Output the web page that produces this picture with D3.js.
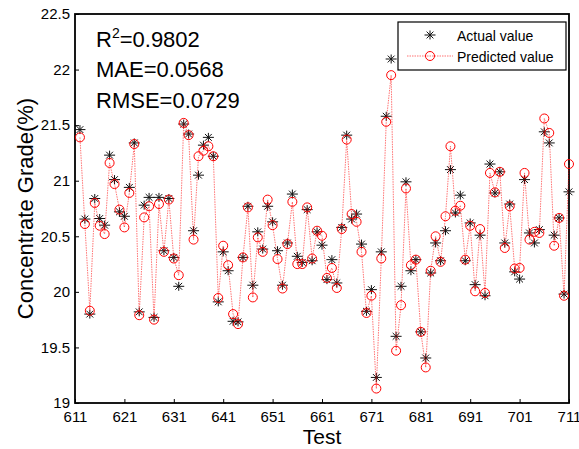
<!DOCTYPE html>
<html>
<head>
<meta charset="utf-8">
<script src="https://cdn.jsdelivr.net/npm/d3@7"></script>
<style>
  html, body { margin: 0; padding: 0; background: #fff; }
  svg { display: block; font-family: "Liberation Sans", Arial, sans-serif; }
</style>
</head>
<body>
<svg id="chart" width="579" height="449"></svg>
<script>
const tests = [612,613,614,615,616,617,618,619,620,621,622,623,624,625,626,627,628,629,630,631,
  632,633,634,635,636,637,638,639,640,641,642,643,644,645,646,647,648,649,650,651,
  652,653,654,655,656,657,658,659,660,661,662,663,664,665,666,667,668,669,670,671,
  672,673,674,675,676,677,678,679,680,681,682,683,684,685,686,687,688,689,690,691,
  692,693,694,695,696,697,698,699,700,701,702,703,704,705,706,707,708,709,710,711];

const actualValues = [21.46,20.655,19.80,20.84,20.66,20.60,21.23,21.01,20.72,20.68,
  20.94,21.34,19.82,20.78,20.85,19.77,20.85,20.37,20.84,20.31,
  20.05,21.51,21.42,20.55,21.05,21.32,21.39,21.22,19.91,20.36,
  20.19,19.735,19.73,20.31,20.77,20.06,20.54,20.385,20.77,20.63,
  20.37,20.06,20.44,20.88,20.32,20.265,20.74,20.28,20.54,20.42,
  20.11,20.29,20.08,20.58,21.41,20.655,20.70,20.43,19.825,20.02,
  19.23,20.36,21.58,22.095,19.60,20.05,20.99,20.19,20.29,19.64,
  19.405,20.17,20.44,20.28,20.55,21.10,20.71,20.87,20.28,20.62,
  20.065,20.51,19.965,21.15,20.89,21.08,20.44,20.79,20.18,20.115,
  21.01,20.53,20.44,20.56,21.44,21.34,20.51,20.665,19.98,20.90];

const predictedValues = [21.39,20.61,19.83,20.80,20.595,20.52,21.16,20.97,20.74,20.58,
  20.89,21.33,19.79,20.67,20.77,19.75,20.79,20.36,20.83,20.30,
  20.15,21.52,21.41,20.47,21.22,21.27,21.31,21.22,19.945,20.415,
  20.24,19.80,19.71,20.31,20.76,19.95,20.49,20.36,20.83,20.60,
  20.295,20.03,20.43,20.81,20.25,20.25,20.76,20.30,20.55,20.505,
  20.125,20.215,20.035,20.565,21.37,20.70,20.63,20.36,19.81,19.965,
  19.13,20.30,21.53,21.95,19.47,19.88,20.93,20.24,20.29,19.64,
  19.32,20.19,20.50,20.27,20.68,21.31,20.73,20.775,20.29,20.595,
  20.005,20.565,19.99,21.07,20.895,21.08,20.395,20.77,20.21,20.215,
  21.07,20.47,20.54,20.53,21.56,21.43,20.415,20.665,19.965,21.15];

const xTickValues = [611,621,631,641,651,661,671,681,691,701,711];
const yTickValues = [19,19.5,20,20.5,21,21.5,22,22.5];
const yTickLabels = ["19","19.5","20","20.5","21","21.5","22","22.5"];
const statLines = [["R", "2", "=0.9802"], ["MAE=0.0568"], ["RMSE=0.0729"]];
const legendLabels = ["Actual value", "Predicted value"];
const xTitle = "Test";
const yTitle = "Concentrate Grade(%)";

const svg = d3.select("#chart");
const L = 75, R = 569, T = 14, B = 403;
const x = d3.scaleLinear().domain([611, 711]).range([L, R]);
const y = d3.scaleLinear().domain([19, 22.5]).range([B, T]);

svg.append("rect").attr("x", 0).attr("y", 0).attr("width", 579).attr("height", 449).attr("fill", "#fff");

// axes
const xAxis = d3.axisBottom(x).tickValues(xTickValues).tickFormat(d3.format("d"))
  .tickSizeInner(-4).tickSizeOuter(0).tickPadding(8);
const gx = svg.append("g").attr("transform", `translate(0,${B})`).call(xAxis);
gx.select(".domain").remove();
gx.selectAll(".tick line").attr("stroke", "#000").attr("stroke-width", 1);
gx.selectAll(".tick text").attr("font-size", 15).attr("fill", "#000")
  .attr("font-family", "Liberation Sans, Arial, sans-serif").attr("dy", "0.72em");

const yAxis = d3.axisLeft(y).tickValues(yTickValues)
  .tickFormat((d, i) => yTickLabels[i]).tickSizeInner(-4).tickSizeOuter(0).tickPadding(5);
const gy = svg.append("g").attr("transform", `translate(${L},0)`).call(yAxis);
gy.select(".domain").remove();
gy.selectAll(".tick line").attr("stroke", "#000").attr("stroke-width", 1);
gy.selectAll(".tick text").attr("font-size", 15).attr("fill", "#000")
  .attr("font-family", "Liberation Sans, Arial, sans-serif");

// box
svg.append("rect").attr("x", L).attr("y", T).attr("width", R - L).attr("height", B - T)
  .attr("fill", "none").attr("stroke", "#000").attr("stroke-width", 1.8);

function starPath(cx, cy) {
  const h = 5.5, v = 4.5, d = 3.4;
  return `M${cx - h},${cy}L${cx + h},${cy}M${cx},${cy - v}L${cx},${cy + v}` +
         `M${cx - d},${cy - d}L${cx + d},${cy + d}M${cx - d},${cy + d}L${cx + d},${cy - d}`;
}

const actualData = tests.map((t, i) => ({ t, v: actualValues[i] }));
const predData = tests.map((t, i) => ({ t, v: predictedValues[i] }));

svg.append("g").selectAll("path").data(actualData).join("path")
  .attr("d", d => starPath(x(d.t), y(d.v)))
  .attr("stroke", "#111").attr("stroke-width", 1).attr("fill", "none");

const line = d3.line().x(d => x(d.t)).y(d => y(d.v));
svg.append("path").datum(predData).attr("d", line)
  .attr("fill", "none").attr("stroke", "#ff0000").attr("stroke-opacity", 0.55)
  .attr("stroke-width", 1).attr("stroke-dasharray", "1.5,1");

svg.append("g").selectAll("circle").data(predData).join("circle")
  .attr("cx", d => x(d.t)).attr("cy", d => y(d.v)).attr("r", 4.5)
  .attr("fill", "none").attr("stroke", "#ff0000").attr("stroke-width", 1);

// stats text
const statY = [46.5, 76.5, 107.5];
statLines.forEach((parts, i) => {
  const t = svg.append("text").attr("x", 96).attr("y", statY[i])
    .attr("font-size", 22).attr("fill", "#000");
  if (parts.length === 3) {
    t.append("tspan").text(parts[0]);
    t.append("tspan").attr("font-size", 14).attr("dy", -9).text(parts[1]);
    t.append("tspan").attr("dy", 9).text(parts[2]);
  } else {
    t.text(parts[0]);
  }
});

// legend
const lg = svg.append("g");
lg.append("rect").attr("x", 398).attr("y", 22).attr("width", 168).attr("height", 48)
  .attr("fill", "#fff").attr("stroke", "#000").attr("stroke-width", 1.2);
lg.append("path").attr("d", starPath(430, 35)).attr("stroke", "#111").attr("stroke-width", 1).attr("fill", "none");
lg.append("line").attr("x1", 407).attr("x2", 453).attr("y1", 56).attr("y2", 56)
  .attr("stroke", "#ff0000").attr("stroke-opacity", 0.55).attr("stroke-width", 1).attr("stroke-dasharray", "1.5,1");
lg.append("circle").attr("cx", 430).attr("cy", 56).attr("r", 4.5)
  .attr("fill", "none").attr("stroke", "#ff0000").attr("stroke-width", 1);
lg.append("text").attr("x", 457).attr("y", 41).attr("font-size", 14).text(legendLabels[0]);
lg.append("text").attr("x", 457).attr("y", 61.5).attr("font-size", 14).text(legendLabels[1]);

// axis titles
svg.append("text").attr("x", (L + R) / 2).attr("y", 444).attr("text-anchor", "middle")
  .attr("font-size", 21).text(xTitle);
svg.append("text").attr("transform", `translate(33,${(T + B) / 2}) rotate(-90)`)
  .attr("text-anchor", "middle").attr("font-size", 22).text(yTitle);
</script>
</body>
</html>
